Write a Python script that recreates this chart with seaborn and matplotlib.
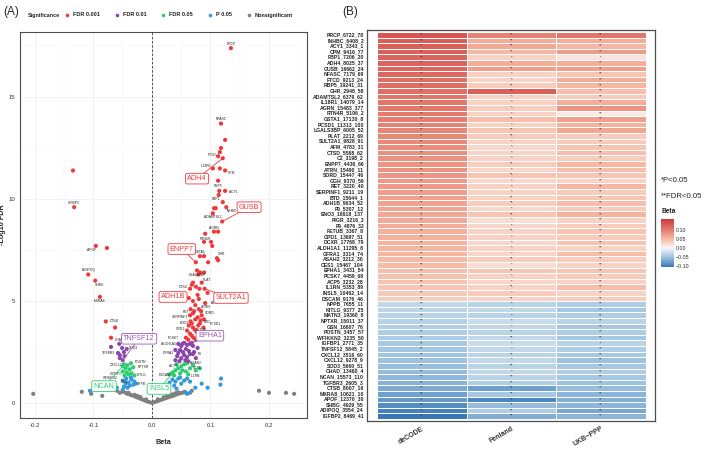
import numpy as np
import pandas as pd
import matplotlib
matplotlib.use("Agg")
import matplotlib.pyplot as plt
import seaborn as sns
from matplotlib.colors import LinearSegmentedColormap
from matplotlib.lines import Line2D

# ---------------- data: volcano (panel A) ----------------
red_beta = [0.135, 0.118, 0.125, 0.118, 0.116, 0.113, 0.121, 0.104, 0.116, 0.125,
            0.113, 0.115, 0.125, 0.114, 0.121, 0.106, 0.109, 0.127, 0.104, 0.120,
            0.106, 0.113, 0.091, 0.101, 0.089, 0.103, 0.111, 0.113, 0.082, 0.089,
            0.096, 0.075, 0.077, 0.079, 0.082, 0.089, 0.085, 0.068, 0.065, 0.090,
            0.081, 0.095, 0.063, 0.091, 0.080, 0.065, 0.070, 0.085, 0.089, 0.083,
            0.068, 0.060, 0.073, 0.058,
            0.070, 0.075, 0.078, 0.070, 0.074, 0.080, 0.066, 0.072, 0.078, 0.082,
            0.066, 0.070, 0.076, 0.065, 0.080, 0.071, 0.062, 0.075, 0.085, 0.068,
            0.063, 0.074, 0.084, 0.088, 0.079,
            -0.135, -0.133, -0.096, -0.077, -0.109, -0.097, -0.089, -0.079, -0.063, -0.070]
red_logfdr = [17.4, 13.7, 12.9, 12.5, 12.3, 12.1, 12.0, 11.5, 11.5, 11.4,
              10.9, 10.4, 10.4, 10.2, 9.85, 9.55, 9.55, 9.6, 9.3, 8.9,
              8.4, 8.4, 8.3, 7.9, 7.9, 7.7, 7.1, 7.0, 7.2, 7.2,
              6.9, 6.9, 6.5, 6.3, 6.4, 6.4, 5.9, 5.8, 5.6, 5.6,
              5.6, 5.4, 5.15, 4.9, 4.6, 4.3, 4.4, 4.3, 4.1, 4.05,
              3.9, 3.55, 3.6, 3.2,
              5.9, 5.7, 5.3, 5.0, 4.8, 5.1, 4.6, 4.5, 4.2, 3.9,
              4.0, 3.7, 3.5, 3.4, 3.4, 3.2, 3.1, 3.1, 3.3, 3.3,
              3.8, 4.1, 4.5, 3.7, 3.8,
              11.4, 9.6, 7.7, 7.6, 6.3, 6.0, 5.2, 4.0, 3.7, 3.2]
red_gene = ["PRCP", "NFASC", "", "", "", "FTCD", "ADH4", "IL18R1", "", "CPM",
            "RBP5", "", "ACY1", "", "FBP1", "", "", "INHBC", "ADAMTSL2", "GUSB",
            "AGRN", "", "", "RTN4R", "", "", "GHR", "", "GSTA1", "",
            "", "ENPP7", "LGALS3BP", "", "", "", "PLAT", "", "CTSD", "SULT2A1",
            "", "", "ADH1B", "AFM", "ATRN", "SERPINF1", "RET", "SORD", "PCSD1", "BTD",
            "ENO3", "GPD1", "FETUB", "PCSK7",
            "", "", "", "", "", "", "", "", "", "",
            "", "", "", "", "", "", "", "", "", "",
            "", "", "", "", "",
            "", "IGFBP2", "APOF", "", "ADIPOQ", "SHBG", "MXRA8", "CTSB", "", "CHAD"]

purple_beta = [-0.070, -0.056, -0.051, -0.058, -0.055, -0.048, -0.043, -0.055, -0.047, -0.050,
               0.045, 0.050, 0.055, 0.060, 0.065, 0.070, 0.048, 0.053, 0.058, 0.063,
               0.043, 0.050, 0.055, 0.060, 0.065, 0.040, 0.047, 0.057, 0.072, 0.075,
               0.052, 0.070, 0.045, 0.068, 0.062, 0.040, 0.078]
purple_logfdr = [2.75, 2.9, 2.7, 2.45, 2.35, 2.5, 2.65, 2.2, 2.3, 2.1,
                 2.9, 2.8, 2.95, 2.85, 2.9, 2.8, 2.6, 2.5, 2.65, 2.55,
                 2.3, 2.2, 2.35, 2.25, 2.4, 2.1, 2.05, 2.1, 2.5, 2.2,
                 2.9, 2.4, 2.45, 2.95, 2.05, 2.6, 2.7]
purple_gene = ["", "", "", "TGFBR3", "", "", "SOD3", "", "", "TNFSF12",
               "", "", "", "", "", "", "", "", "", "",
               "", "", "", "", "", "", "", "", "", "",
               "ALDH1A1", "F9", "GFRA1", "EPHA1", "ASAH2", "", ""]

green_beta = [-0.048, -0.042, -0.036, -0.045, -0.038, -0.032, -0.050, -0.043, -0.035, -0.030,
              -0.047, -0.040, -0.050,
              0.030, 0.035, 0.040, 0.045, 0.050, 0.055, 0.060, 0.038, 0.048, 0.058,
              0.065, 0.070, 0.075, 0.082, 0.052, 0.042, 0.062, 0.035]
green_logfdr = [1.9, 1.85, 1.95, 1.7, 1.65, 1.75, 1.55, 1.5, 1.45, 1.35,
                1.35, 1.4, 1.8,
                1.4, 1.5, 1.6, 1.7, 1.8, 1.9, 1.95, 1.35, 1.45, 1.55,
                1.7, 1.85, 1.6, 1.7, 1.6, 1.9, 1.4, 1.45]
green_gene = ["", "CXCL12", "POSTN", "", "", "NPTXR", "", "IGFBP1", "KITLG", "",
              "WFIKKN2", "", "NCAN",
              "", "", "", "", "ACP5", "", "", "DSCAM", "", "",
              "CES1", "", "", "", "", "", "IL1RN", "INSL5"]

blue_beta = [-0.106, -0.050, -0.045, -0.040, -0.035, -0.030, -0.048, -0.042, -0.038, -0.032,
             -0.050, -0.028, -0.036, -0.044, -0.060,
             0.030, 0.035, 0.040, 0.045, 0.050, 0.055, 0.060, 0.065, 0.028, 0.038,
             0.048, 0.074, 0.085, 0.095, 0.118, 0.117, 0.058, 0.065, 0.042]
blue_logfdr = [0.6, 1.1, 0.95, 1.0, 1.15, 1.05, 0.8, 0.75, 0.85, 0.9,
               0.65, 0.95, 1.25, 1.2, 0.75,
               1.0, 1.15, 1.05, 1.2, 0.95, 1.1, 1.2, 1.05, 0.85, 0.85,
               1.25, 0.75, 0.95, 0.75, 1.2, 0.9, 0.5, 0.5, 0.7]
blue_gene = ["", "", "", "", "GSN", "NPPB", "", "", "", "",
             "", "", "", "", "",
             "", "", "", "", "", "", "", "", "", "",
             "", "", "", "", "", "", "", "", ""]

gray_beta = [-0.203, -0.120, -0.104, -0.085, 0.183, 0.200, 0.229, 0.243,
             -0.060, -0.055, -0.050, -0.045, -0.042, -0.038, -0.035, -0.030, -0.027, -0.024,
             -0.020, -0.017, -0.013, -0.010, -0.007, -0.004, 0.000, 0.004, 0.008, 0.012,
             0.016, 0.020, 0.024, 0.028, 0.032, 0.036, 0.040, 0.044, 0.048, 0.052,
             0.056, 0.060, 0.068, -0.040, -0.030, -0.020, 0.020, 0.030, 0.040, -0.010,
             0.010, -0.025, 0.025, 0.035, 0.045]
gray_logfdr = [0.45, 0.55, 0.45, 0.35, 0.6, 0.5, 0.5, 0.45,
               0.6, 0.5, 0.55, 0.5, 0.45, 0.42, 0.38, 0.33, 0.30, 0.26,
               0.22, 0.18, 0.14, 0.10, 0.07, 0.04, 0.01, 0.04, 0.08, 0.12,
               0.16, 0.20, 0.24, 0.28, 0.32, 0.35, 0.40, 0.44, 0.48, 0.50,
               0.55, 0.45, 0.60, 0.50, 0.40, 0.30, 0.28, 0.38, 0.48, 0.18,
               0.18, 0.35, 0.32, 0.42, 0.52]

sig_levels = ["FDR 0.001", "FDR 0.01", "FDR 0.05", "P 0.05", "Nonsignificant"]
sig_colors = ["#F0383B", "#8E44AD", "#2ECC71", "#3498DB", "#808080"]

# ---------------- data: heatmap (panel B) ----------------
row_labels = ["PRCP_6722_78", "INHBC_6408_2", "ACY1_3343_1", "CPM_9416_77", "FBP1_7206_20",
              "ADH4_8025_37", "GUSB_16662_24", "NFASC_7179_69", "FTCD_9213_24", "RBP5_19241_31",
              "GHR_2948_58", "ADAMTSL2_6379_62", "IL18R1_14079_14", "AGRN_15483_377", "RTN4R_5106_2",
              "GSTA1_17130_8", "PCSD1_11313_100", "LGALS3BP_6005_52", "PLAT_2212_69", "SULT2A1_9828_91",
              "AFM_4783_31", "CTSD_5568_62", "C2_3198_2", "ENPP7_4436_66", "ATRN_15490_11",
              "SORD_15447_46", "GGH_9370_59", "RET_3220_40", "SERPINF1_9211_19", "BTD_15644_1",
              "ADH1B_9634_52", "F9_5307_12", "ENO3_16618_137", "PIGR_3216_2", "F9_4976_32",
              "FETUB_3367_8", "GPD1_13697_51", "DCXR_17768_79", "ALDH1A1_11295_8", "GFRA1_3314_74",
              "ASAH2_3212_30", "CES1_15467_104", "EPHA1_3431_54", "PCSK7_4459_68", "ACP5_3232_28",
              "IL1RN_5353_89", "INSL5_10462_14", "DSCAM_9176_46", "NPPB_7655_11", "KITLG_9377_25",
              "MATN3_19360_8", "NPTXR_15011_37", "GSN_16607_76", "POSTN_3457_57", "WFIKKN2_3235_50",
              "IGFBP1_2771_35", "TNFSF12_5845_2", "CXCL12_3516_60", "CXCL12_9278_9", "SOD3_5660_51",
              "CHAD_13460_4", "NCAN_15573_110", "TGFBR3_2605_3", "CTSB_8007_19", "MXRA8_10621_10",
              "APOF_12370_30", "SHBG_4929_55", "ADIPOQ_3554_24", "IGFBP2_8469_41"]
study_cols = ["deCODE", "Fenland", "UKB\u2212PPP"]
decode_beta = [0.135, 0.127, 0.125, 0.125, 0.121, 0.121, 0.120, 0.118, 0.113, 0.113,
               0.111, 0.104, 0.104, 0.103, 0.101, 0.098, 0.095, 0.092, 0.090, 0.089,
               0.087, 0.085, 0.083, 0.081, 0.080, 0.078, 0.076, 0.074, 0.072, 0.070,
               0.068, 0.066, 0.064, 0.062, 0.060, 0.058, 0.057, 0.055, 0.053, 0.051,
               0.049, 0.047, 0.045, 0.043, 0.041, 0.039, 0.036, 0.034,
               -0.030, -0.032, -0.034, -0.036, -0.038, -0.040, -0.042, -0.044, -0.046, -0.048,
               -0.050, -0.052, -0.055, -0.058, -0.062, -0.068, -0.075, -0.082, -0.090, -0.098, -0.108]
fenland_beta = [0.095, 0.060, 0.062, 0.050, 0.030, 0.060, 0.070, 0.030, 0.030, 0.035,
                0.125, 0.030, 0.030, 0.035, 0.030, 0.045, 0.030, 0.040, 0.035, 0.030,
                0.025, 0.030, 0.030, 0.035, 0.025, 0.040, 0.025, 0.030, 0.030, 0.030,
                0.035, 0.025, 0.040, 0.020, 0.025, 0.030, 0.030, 0.025, 0.030, 0.025,
                0.035, 0.020, 0.040, 0.030, 0.025, 0.030, 0.035, 0.030,
                -0.035, -0.030, -0.035, -0.025, -0.030, -0.035, -0.030, -0.025, -0.030, -0.035,
                -0.030, -0.035, -0.030, -0.035, -0.040, -0.075, -0.045, -0.095, -0.055, -0.040, -0.065]
ukb_beta = [0.105, 0.060, 0.050, 0.075, 0.015, 0.060, 0.070, 0.040, 0.060, 0.050,
            0.045, 0.035, 0.060, 0.080, 0.010, 0.070, 0.055, 0.065, 0.035, 0.035,
            0.040, 0.045, 0.035, 0.050, 0.045, 0.040, 0.030, 0.050, 0.035, 0.040,
            0.045, 0.035, 0.055, 0.030, 0.035, 0.040, 0.035, 0.040, 0.030, 0.045,
            0.035, 0.030, 0.040, 0.035, 0.030, 0.045, 0.030, 0.035,
            -0.040, -0.045, -0.040, -0.035, -0.045, -0.040, -0.045, -0.035, -0.040, -0.045,
            -0.050, -0.045, -0.040, -0.045, -0.050, -0.055, -0.060, -0.065, -0.060, -0.070, -0.060]
decode_star = ["**"] * 69
fenland_star = ["**", "**", "**", "**", "*", "**", "**", "*", "*", "**",
                "**", "*", "*", "*", "*", "**", "*", "**", "**", "*",
                "*", "*", "*", "**", "*", "**", "*", "*", "*", "**",
                "**", "*", "**", "*", "*", "**", "*", "*", "*", "*",
                "**", "*", "**", "*", "*", "**", "*", "**",
                "*", "*", "*", "*", "*", "**", "**", "*", "*", "**",
                "*", "**", "*", "**", "**", "**", "**", "**", "**", "**", "**"]
ukb_star = ["**", "**", "**", "**", "*", "**", "**", "**", "**", "**",
            "**", "**", "**", "*", "**", "**", "**", "**", "**", "**",
            "**", "**", "**", "**", "**", "**", "**", "**", "**", "**",
            "**", "**", "**", "**", "**", "**", "**", "**", "**", "**",
            "**", "**", "**", "**", "**", "**", "**", "**",
            "**", "**", "**", "**", "**", "**", "**", "*", "**", "**",
            "**", "**", "**", "**", "**", "**", "**", "**", "**", "**", "**"]
cbar_ticks = [0.10, 0.05, 0.00, -0.05, -0.10]

# ---------------- figure ----------------
sns.set_theme(style="white")
plt.rcParams["font.family"] = ["Liberation Sans", "DejaVu Sans"]
plt.rcParams["axes.unicode_minus"] = False

W, H = 709, 453
fig = plt.figure(figsize=(W / 100, H / 100), dpi=100)


def px(l, t, r, b):
    return [l / W, 1 - b / H, (r - l) / W, (b - t) / H]


# ---------- Panel A ----------
axA = fig.add_axes(px(20, 32, 307, 418))
frames = []
for lvl, b, y, g in [("FDR 0.001", red_beta, red_logfdr, red_gene),
                     ("FDR 0.01", purple_beta, purple_logfdr, purple_gene),
                     ("FDR 0.05", green_beta, green_logfdr, green_gene),
                     ("P 0.05", blue_beta, blue_logfdr, blue_gene),
                     ("Nonsignificant", gray_beta, gray_logfdr, [""] * len(gray_beta))]:
    frames.append(pd.DataFrame({"beta": b, "logfdr": y, "gene": g, "sig": lvl}))
vdf = pd.concat(frames, ignore_index=True)
vdf["sig"] = pd.Categorical(vdf["sig"], categories=sig_levels)
vdf = vdf.sort_values("sig", ascending=False)

axA.set_axisbelow(True)
axA.grid(True, which="major", color="#EDEDED", lw=0.5)
axA.set_xticks([-0.15, -0.05, 0.05, 0.15, 0.25], minor=True)
axA.set_yticks([2.5, 7.5, 12.5, 17.5], minor=True)
axA.grid(True, which="minor", color="#F5F5F5", lw=0.35)
sns.scatterplot(data=vdf, x="beta", y="logfdr", hue="sig", hue_order=sig_levels,
                palette=sig_colors, s=9, linewidth=0, legend=False, ax=axA, zorder=3)
axA.axvline(0, color="#333333", ls=(0, (3, 2)), lw=0.6, zorder=2)
axA.set_xlim(-0.2256, 0.265)
axA.set_ylim(-0.735, 18.19)
axA.set_xticks([-0.2, -0.1, 0.0, 0.1, 0.2])
axA.set_xticklabels(["-0.2", "-0.1", "0.0", "0.1", "0.2"])
axA.set_yticks([0, 5, 10, 15])
axA.tick_params(axis="both", which="major", labelsize=4.3, length=2, width=0.5,
                pad=1.5, colors="#333333")
axA.tick_params(axis="both", which="minor", length=0)
for s in axA.spines.values():
    s.set_color("#4D4D4D")
    s.set_linewidth(0.8)
axA.set_xlabel("Beta", fontsize=5.2, fontweight="bold", labelpad=8)
axA.set_ylabel("-Log10 FDR", fontsize=5.2, fontweight="bold", labelpad=1.5)

# small gene labels
boxed = {"ADH4": (0.077, 11.0, "#F0383B"), "GUSB": (0.166, 9.6, "#F0383B"),
         "ENPP7": (0.051, 7.55, "#F0383B"), "ADH1B": (0.036, 5.2, "#F0383B"),
         "SULT2A1": (0.135, 5.15, "#F0383B"), "TNFSF12": (-0.022, 3.15, "#9B59B6"),
         "EPHA1": (0.099, 3.3, "#9B59B6"), "NCAN": (-0.082, 0.83, "#2ECC71"),
         "INSL5": (0.012, 0.69, "#2ECC71")}
offsets = {"PRCP": (0, 3), "NFASC": (0, 3), "FTCD": (-4, 1), "IL18R1": (-5, 2),
           "CPM": (5, -2), "RBP5": (0, -3.5), "ACY1": (6, -1), "FBP1": (-5, 2),
           "INHBC": (4, -3), "ADAMTSL2": (0, -3), "IGFBP2": (0, 3), "APOF": (-3, -3),
           "ADIPOQ": (0, 3), "SHBG": (3, -3), "MXRA8": (0, -3), "CTSB": (6, 0),
           "CHAD": (6, -1.5), "AGRN": (0, 3), "RTN4R": (-4, 2), "GHR": (3, 3),
           "GSTA1": (0, 3), "LGALS3BP": (0, -3), "PLAT": (4, 2), "CTSD": (-5, 1),
           "AFM": (7, 0), "ATRN": (5, 1.5), "SERPINF1": (-7, -1), "RET": (-5, 1),
           "SORD": (6, 1.5), "PCSD1": (8, -3), "BTD": (5, -1), "ENO3": (-5, 0),
           "GPD1": (-5, 1), "FETUB": (5, 0), "PCSK7": (-9, 0), "TGFBR3": (-7, 0),
           "SOD3": (5, 0.5), "ALDH1A1": (-10, 0), "F9": (5, 0), "GFRA1": (-7, 0),
           "ASAH2": (5, -1), "CXCL12": (-8, 0), "POSTN": (7, 1), "NPTXR": (7, 0),
           "IGFBP1": (-8, -1), "KITLG": (7, -1), "WFIKKN2": (-10, -2), "ACP5": (-6, 0),
           "DSCAM": (-7, 0), "CES1": (5, 0), "IL1RN": (5, -1), "GSN": (-5, -1.5),
           "NPPB": (5, -2)}
for _, r in vdf.iterrows():
    g = r["gene"]
    if not g:
        continue
    if g in boxed:
        tx, ty, c = boxed[g]
        axA.annotate(g, xy=(r["beta"], r["logfdr"]), xytext=(tx, ty),
                     fontsize=5.2, color=c, ha="center", va="center", zorder=6,
                     bbox=dict(boxstyle="round,pad=0.25", fc="white", ec=c, lw=0.6),
                     arrowprops=dict(arrowstyle="-", color=c, lw=0.6,
                                     shrinkA=0, shrinkB=0))
    else:
        dx, dy = offsets.get(g, (0, 3))
        axA.annotate(g, xy=(r["beta"], r["logfdr"]), xytext=(dx, dy),
                     textcoords="offset points", fontsize=2.4, color="#222222",
                     ha="center", va="center", zorder=5)

# legend for panel A
fig.text(28 / W, 1 - 15 / H, "Significance", fontsize=3.9, fontweight="bold",
         va="center", ha="left", color="#222222")
handles = [Line2D([], [], marker="o", ls="none", markersize=2.6, color=c,
                  markeredgewidth=0) for c in sig_colors]
leg = fig.legend(handles, sig_levels, ncol=5, loc="center left",
                 bbox_to_anchor=(64 / W, 1 - 15 / H), frameon=False,
                 prop={"size": 4.0, "weight": "bold"}, handlelength=1.2,
                 handletextpad=0.5, columnspacing=2.4, borderpad=0, borderaxespad=0)
for t in leg.get_texts():
    t.set_color("#222222")

# ---------- Panel B ----------
axB = fig.add_axes(px(367, 30, 655, 421))
cax = fig.add_axes(px(661, 219, 674, 267))
hm = pd.DataFrame({study_cols[0]: decode_beta, study_cols[1]: fenland_beta,
                   study_cols[2]: ukb_beta}, index=row_labels)
stars = pd.DataFrame({study_cols[0]: decode_star, study_cols[1]: fenland_star,
                      study_cols[2]: ukb_star}, index=row_labels)
vmin, vmax = -0.106, 0.16
stops = [(-0.106, "#3878B8"), (-0.05, "#9EC3E0"), (0.0, "#F7F7F7"),
         (0.05, "#F7B9A3"), (0.10, "#E47C6E"), (0.16, "#CC3A40")]
cmap = LinearSegmentedColormap.from_list(
    "beta", [((v - vmin) / (vmax - vmin), c) for v, c in stops])
sns.heatmap(hm, ax=axB, cmap=cmap, vmin=vmin, vmax=vmax, annot=stars, fmt="",
            annot_kws={"fontsize": 3.2, "color": "#333333"},
            linewidths=0.4, linecolor="white", cbar=True, cbar_ax=cax,
            xticklabels=True, yticklabels=True)
axB.set_xlim(-0.11, 3.1)
axB.set_ylim(69.36, -0.36)
for s in axB.spines.values():
    s.set_visible(True)
    s.set_color("#4D4D4D")
    s.set_linewidth(0.9)
axB.tick_params(axis="y", labelsize=3.7, length=1.2, width=0.4, pad=1, colors="#222222")
axB.tick_params(axis="x", labelsize=5.0, length=2, width=0.5, pad=1, colors="#333333")
for t in axB.get_yticklabels():
    t.set_fontweight("bold")
for t in axB.get_xticklabels():
    t.set_fontweight("bold")
    t.set_rotation(30)
    t.set_ha("right")
    t.set_rotation_mode("anchor")
axB.set_xlabel("")
axB.set_ylabel("")

cax.set_yticks(cbar_ticks)
cax.set_yticklabels(["0.10", "0.05", "0.00", "\u22120.05", "\u22120.10"])
cax.tick_params(labelsize=3.8, length=2, width=0.4, color="white", pad=1.5,
                direction="in")
for s in cax.spines.values():
    s.set_visible(False)

fig.text(661 / W, 1 - 181 / H, "*P<0.05", fontsize=5.6, ha="left", va="center",
         color="#222222")
fig.text(661 / W, 1 - 197 / H, "**FDR<0.05", fontsize=5.6, ha="left", va="center",
         color="#222222")
fig.text(661 / W, 1 - 212 / H, "Beta", fontsize=4.8, fontweight="bold", ha="left",
         va="center", color="#222222")

fig.text(3 / W, 1 - 12 / H, "(A)", fontsize=8.5, ha="left", va="center")
fig.text(342 / W, 1 - 12 / H, "(B)", fontsize=8.5, ha="left", va="center")

fig.savefig("out.png", dpi=100)
